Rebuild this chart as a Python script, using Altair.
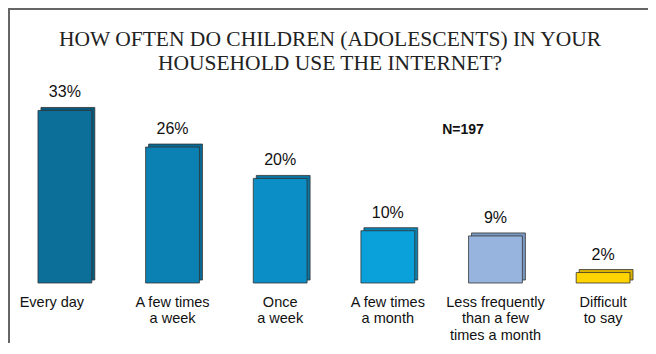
import altair as alt
import pandas as pd

categories = ["Every day", "A few times|a week", "Once|a week", "A few times|a month",
              "Less frequently|than a few|times a month", "Difficult|to say"]
values = [33, 26, 20, 10, 9, 2]
front_colors = ["#0b6f99", "#0b80b3", "#0b8ec5", "#0aa0da", "#96b4de", "#ffd400"]
side_colors = ["#085a7c", "#096894", "#0a74a2", "#0a82b2", "#7a98c2", "#d9b300"]
title_lines = ["HOW OFTEN DO CHILDREN (ADOLESCENTS) IN YOUR", "HOUSEHOLD USE THE INTERNET?"]
note = "N=197"

df = pd.DataFrame({"cat": categories, "value": values})
df["label"] = df["value"].astype(str) + "%"

x = alt.X("cat:N", sort=categories,
          scale=alt.Scale(paddingInner=0.5, paddingOuter=0.167),
          axis=alt.Axis(title=None, domain=False, ticks=False, labelAngle=0,
                        labelExpr="split(datum.label, '|')",
                        labelFont="Liberation Sans", labelFontSize=14.5, labelColor="#111",
                        labelLineHeight=16.5, labelPadding=12, labelBaseline="top",
                        labelOffset={"condition": {"test": "datum.value === 'Every day'", "value": -13}, "value": 0}))
y = alt.Y("value:Q", scale=alt.Scale(domain=[0, 35]), axis=None)

base = alt.Chart(df)

side = base.mark_bar(xOffset=3, x2Offset=3, yOffset=-3, y2Offset=-3,
                     stroke="#333", strokeWidth=0.8).encode(
    x=x, y=y,
    color=alt.Color("cat:N", scale=alt.Scale(domain=categories, range=side_colors), legend=None))

front = base.mark_bar(stroke="#333", strokeWidth=0.8).encode(
    x=x, y=y,
    color=alt.Color("cat:N", scale=alt.Scale(domain=categories, range=front_colors), legend=None))

labels = base.mark_text(dy=-13, baseline="alphabetic", font="Liberation Sans",
                        fontSize=16, color="#111").encode(
    x=x, y=y, text="label:N")

frame_df = pd.DataFrame({"f": [0]})
frame_left = alt.Chart(frame_df).mark_rule(stroke="#666", strokeWidth=2).encode(
    x=alt.value(-11), y=alt.value(-92), y2=alt.value(300))
frame_top = alt.Chart(frame_df).mark_rule(stroke="#666", strokeWidth=2).encode(
    x=alt.value(-12), x2=alt.value(700), y=alt.value(-91))

title_df = pd.DataFrame({"t": [title_lines]})
title = alt.Chart(title_df).mark_text(
    font="Liberation Serif", fontSize=21.5, color="#222", lineHeight=24,
    align="center", baseline="alphabetic").encode(
    x=alt.value(310), y=alt.value(-54), text="t")

ntext = alt.Chart(pd.DataFrame({"t": [note]})).mark_text(
    font="Liberation Sans", fontSize=14, fontWeight="bold", color="#111",
    align="center", baseline="alphabetic").encode(x=alt.value(443), y=alt.value(34), text="t:N")

chart = alt.layer(frame_left, frame_top, side, front, labels, ntext, title).resolve_scale(color="independent").properties(
    width=628, height=183,
    autosize=alt.AutoSizeParams(type="none"),
    padding={"left": 12, "top": 92, "right": 0, "bottom": 60},
    view=alt.ViewBackground(strokeOpacity=0, strokeWidth=0),
).configure_view(strokeWidth=0, strokeOpacity=0).configure(background="white")

chart.save("out.html", embed_options={"renderer": "svg", "actions": False})
